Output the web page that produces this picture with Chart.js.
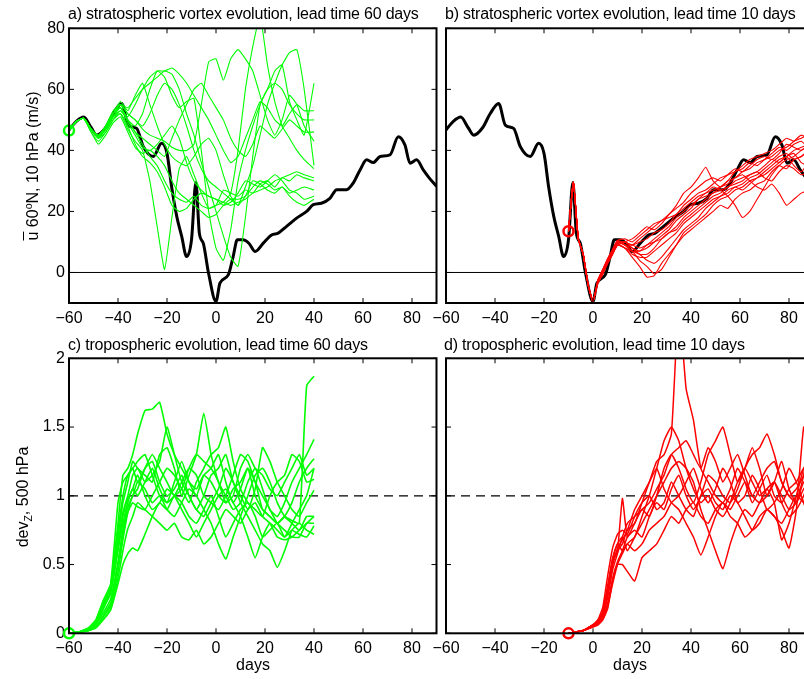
<!DOCTYPE html>
<html>
<head>
<meta charset="utf-8">
<script src="https://cdn.jsdelivr.net/npm/chart.js@4.4.1/dist/chart.umd.min.js"></script>
<style>
  html, body { margin: 0; padding: 0; background: #fff; overflow: hidden; width: 804px; height: 679px; }
  canvas { position: absolute; left: 0; top: 0; }
  .txt { position: absolute; font-family: "Liberation Sans", Arial, sans-serif; font-size: 16px; line-height: 16px; color: #000; white-space: nowrap; }
  .title { letter-spacing: -0.2px; }
  .ylab { transform: translate(-50%, -50%) rotate(-90deg); }
  .xlab { transform: translateX(-50%); }
  .ovl { text-decoration: overline; }
  sup, sub { font-size: 10.5px; line-height: 0; }
</style>
</head>
<body>
<canvas id="chart-a" width="830" height="679"></canvas>
<canvas id="chart-b" width="830" height="679"></canvas>
<canvas id="chart-c" width="830" height="679"></canvas>
<canvas id="chart-d" width="830" height="679"></canvas>

<div class="txt title" style="left:68px;top:6px">a) stratospheric vortex evolution, lead time 60 days</div>
<div class="txt title" style="left:445px;top:6px">b) stratospheric vortex evolution, lead time 10 days</div>
<div class="txt title" style="left:68px;top:337px">c) tropospheric evolution, lead time 60 days</div>
<div class="txt title" style="left:444px;top:337px">d) tropospheric evolution, lead time 10 days</div>
<div class="txt ylab" style="left:33px;top:166px"><span class="ovl">u</span> 60<sup>o</sup>N, 10 hPa (m/s)</div>
<div class="txt ylab" style="left:23px;top:497px">dev<sub>Z</sub>, 500 hPa</div>
<div class="txt xlab" style="left:253px;top:657px">days</div>
<div class="txt xlab" style="left:630px;top:657px">days</div>

<script>
// tick labels
const dayTicks = [-60, -40, -20, 0, 20, 40, 60, 80];
const uTicks = [0, 20, 40, 60, 80];
const devTicks = [0, 0.5, 1, 1.5, 2];

// reference lines
const refDays = [-60, 90];
const uZero = [0, 0];
const devOne = [1, 1];

// observed 10 hPa zonal wind at 60N
const obsDays = [-60, -57, -54, -51, -48.7, -45, -42, -38.5, -35.8, -32.4, -29.7, -25.6, -22.2, -20, -18.1,
  -16, -14, -12, -10, -8.2, -6.8, -5.2, -3.1, 0, 1.6, 5, 7, 8.7, 11, 13.5, 16, 19.3, 22.7, 25.4, 28.8,
  32.9, 37, 39.7, 43, 46.5, 49.3, 53.3, 56, 58.8, 61.5, 64.2, 67, 71, 74.4, 77.1, 79.2, 81.9, 84.6, 87, 90];
const obsU = [46.7, 49.5, 50.9, 47.5, 45, 47.5, 52, 55.4, 48.3, 47.2, 41.3, 38, 42.3, 39, 28,
  18.3, 11.8, 5.2, 10.7, 29.5, 12.9, 9.6, 0, -9.5, -3.5, -0.8, 5.2, 10.7, 10.7, 9.5, 6.9, 9.6, 12.3, 12.9, 15.1,
  17.8, 20, 22.2, 22.7, 24.3, 27.1, 27.1, 29.3, 33.6, 36.9, 36, 38, 38.5, 44.5, 41.8, 35.8, 36.9, 33.6, 31, 28.2];

// a) ensemble started 60 days ahead
const daysA = [-60, -57, -54, -51, -48, -45, -42, -39, -36, -33, -30, -27, -24, -21, -18, -15, -12, -9, -6, -3,
  0, 3, 6, 9, 12, 15, 18, 21, 24, 27, 30, 33, 36, 40];
const uA1 = [46.5, 49.5, 50.5, 47, 44, 47, 51, 52, 47, 43, 40, 30, 15, 1, 18, 34, 38, 32, 26, 21, 22, 27, 26, 25, 27, 26, 29, 30, 28, 31, 30, 32, 31, 30];
const uA2 = [46.5, 49.5, 50.5, 47, 44.5, 48, 52, 54, 50, 46, 42, 38, 35, 30, 26, 24, 23, 25, 22, 21, 22, 23, 26, 40, 60, 74, 84, 68, 56, 48, 44, 40, 37, 34];
const uA3 = [46.5, 49.5, 50.5, 47, 45, 48, 53, 55, 52, 50, 47, 45, 44, 43, 41, 40, 40, 42, 55, 69, 70, 63, 70, 73, 70, 66, 58, 50, 45, 50, 58, 55, 48, 43];
const uA4 = [46.5, 49.5, 50.5, 47, 44.5, 47, 52, 56, 53, 58, 62, 55, 48, 42, 38, 36, 35, 38, 42, 44, 40, 32, 25, 22, 28, 35, 45, 55, 62, 68, 72, 73, 60, 35];
const uA5 = [46.5, 49.5, 50.5, 47, 44, 46, 50, 53, 50, 48, 52, 60, 66, 64, 58, 54, 56, 57, 40, 20, 8, 4, 14, 30, 40, 48, 55, 60, 62, 60, 55, 52, 50, 50];
const uA6 = [46.5, 49.5, 50.5, 47, 45, 48, 52, 55, 54, 57, 60, 62, 64, 66, 65, 60, 52, 45, 36, 28, 20, 12, 5, 2, 18, 38, 55, 60, 66, 68, 56, 50, 45, 62];
const uA7 = [46.5, 49.5, 50.5, 47, 44.5, 48, 52, 54, 51, 55, 60, 64, 66, 66, 67, 65, 62, 58, 54, 50, 45, 40, 36, 38, 44, 50, 56, 54, 50, 48, 52, 55, 53, 53];
const uA8 = [46.5, 49.5, 50.5, 47, 44, 47, 51, 53, 50, 46, 44, 42, 40, 38, 44, 50, 55, 60, 62, 58, 54, 50, 44, 40, 38, 42, 48, 46, 44, 47, 50, 48, 46, 46];
const uA9 = [46.5, 49.5, 50.5, 46, 43, 46, 50, 52, 48, 42, 38, 36, 33, 28, 22, 20, 21, 24, 26, 25, 24, 23, 22, 23, 24, 26, 27, 28, 30, 31, 32, 33, 32, 31];
const uA10 = [46.5, 49.5, 50.5, 46, 42, 45, 49, 51, 46, 41, 39, 40, 38, 35, 30, 26, 24, 22, 20, 18, 19, 22, 24, 24, 25, 28, 30, 29, 27, 28, 26, 27, 28, 27];
const uA11 = [46.5, 49.5, 50.5, 47, 44, 47, 51, 54, 49, 45, 41, 40, 42, 45, 48, 44, 36, 30, 27, 25, 24, 22, 23, 26, 30, 29, 28, 30, 32, 30, 27, 26, 24, 25];
const uA12 = [46.5, 49.5, 50.5, 47, 44.5, 47, 52, 55, 52, 50, 48, 52, 58, 62, 60, 55, 48, 40, 34, 30, 28, 26, 24, 22, 25, 30, 29, 27, 26, 28, 25, 23, 22, 24];

// b) ensemble started 10 days ahead
const daysB = [-10, -8, -6, -4, -2, 0, 2, 4, 6, 8, 10, 13, 16, 19, 22, 25, 28, 31, 34, 37, 40, 43, 46, 49, 52,
  55, 58, 61, 64, 67, 70, 73, 76, 79, 82, 85, 88, 90];
const uB1 = [13.5, 29.5, 11, 6, -4, -9.5, -3, 0.5, 4, 7, 10, 10, 9, 11, 13, 15, 17, 19, 22, 26, 28, 31, 34.5, 30, 28, 30, 33, 34, 36, 35, 37, 39, 41, 40, 42, 43, 41, 42];
const uB2 = [13.5, 29.5, 11, 6, -4, -9.5, -3, 0, 3, 6, 9, 8, 5, 2, -1.5, -1, 3, 6, 9, 12, 14, 16, 18, 20, 22, 21, 24, 26, 27, 29, 30, 33, 35, 34, 37, 38, 40, 39];
const uB3 = [13.5, 29.5, 11, 6, -4, -9.5, -2.5, 1, 4.5, 7.5, 10.5, 9, 7, 4, 2, -0.5, 1, 5, 9, 13, 15, 17, 19, 22, 24, 25, 27, 28, 30, 31, 33, 35, 37, 38, 40, 41, 42, 43];
const uB4 = [13.5, 29.5, 11, 6, -4, -9.5, -3.5, -0.5, 3.5, 7, 9.5, 10, 9, 10, 11, 13, 14, 16, 19, 21, 23, 25, 26, 28, 27, 25, 22, 18, 20, 24, 28, 32, 35, 37, 38, 40, 41, 41];
const uB5 = [13.5, 29.5, 11, 6, -4, -9.5, -3, 0.5, 4, 7, 10, 9, 8, 7, 8, 10, 12, 14, 17, 19, 21, 24, 26, 27, 28, 30, 31, 32, 30, 28, 27, 29, 26, 22, 24, 26, 27, 28];
const uB6 = [13.5, 29.5, 11, 6, -4, -9.5, -2.5, 1, 4.5, 7.5, 10.5, 11, 10, 12, 14, 16, 17, 18, 19, 22, 24, 26, 27, 29, 31, 32, 33, 35, 37, 38, 39, 40, 42, 44, 43, 44, 45, 44];
const uB7 = [13.5, 29.5, 11, 6, -4, -9.5, -3, 0, 3, 6, 9, 8, 6, 5, 5, 7, 9, 11, 13, 16, 18, 20, 22, 24, 25, 27, 28, 29, 31, 32, 34, 36, 38, 39, 37, 38, 40, 41];
const uB8 = [13.5, 29.5, 11, 6, -4, -9.5, -3.5, -0.5, 3.5, 7, 9.5, 10, 8, 6, 6, 8, 11, 13, 14, 17, 19, 21, 23, 25, 26, 28, 29, 30, 32, 33, 35, 37, 36, 38, 35, 33, 36, 37];
const uB9 = [13.5, 29.5, 11, 6, -4, -9.5, -3, 0.5, 4, 7, 10, 9, 9, 8, 9, 11, 13, 15, 18, 20, 22, 24, 25, 26, 28, 29, 31, 33, 34, 36, 37, 38, 40, 41, 43, 45, 44, 45];
const uB10 = [13.5, 29.5, 11, 6, -4, -9.5, -2.5, 1, 4.5, 7.5, 10.5, 9, 7, 6, 4, 3, 5, 8, 11, 14, 16, 18, 21, 23, 25, 26, 28, 27, 29, 31, 32, 34, 36, 38, 39, 36, 35, 36];
const uB11 = [13.5, 29.5, 11, 6, -4, -9.5, -3, 0, 3, 6, 9, 10, 11, 13, 15, 14, 16, 19, 21, 23, 26, 28, 30, 31, 30, 32, 34, 33, 35, 37, 38, 37, 39, 42, 41, 40, 42, 43];
const uB12 = [13.5, 29.5, 11, 6, -4, -9.5, -3.5, -0.5, 3.5, 7, 9.5, 8, 7, 7, 9, 10, 11, 13, 15, 18, 20, 22, 24, 26, 27, 28, 30, 31, 32, 33, 31, 30, 33, 35, 34, 32, 33, 34];

// c) tropospheric deviation, 60 days ahead
const daysC = [-60, -56, -52, -49, -46, -43, -40, -38, -36, -34, -32, -29, -26, -23, -20, -17, -14, -11, -8, -5,
  -2, 1, 4, 7, 10, 13, 16, 19, 22, 25, 28, 31, 34, 37, 40];
const devC1 = [0, 0.01, 0.03, 0.08, 0.2, 0.35, 0.8, 1.15, 1.2, 1.3, 1.45, 1.62, 1.63, 1.68, 1.45, 1.3, 1.2, 1.1, 1.05, 1.15, 1.1, 1.0, 0.95, 1.05, 1.1, 1.2, 1.0, 0.9, 0.85, 0.8, 0.85, 0.95, 1.1, 1.2, 1.27];
const devC2 = [0, 0.005, 0.02, 0.05, 0.1, 0.17, 0.36, 0.5, 0.58, 0.62, 0.6, 0.72, 0.85, 0.95, 0.9, 1.0, 0.95, 0.85, 0.8, 0.9, 1.0, 0.85, 0.7, 0.8, 0.9, 0.95, 0.85, 0.7, 0.75, 0.8, 0.7, 0.75, 0.72, 0.7, 0.78];
const devC3 = [0, 0.01, 0.03, 0.07, 0.18, 0.3, 0.6, 0.8, 0.95, 1.05, 1.0, 1.1, 1.2, 1.05, 0.95, 1.1, 1.25, 1.1, 1.0, 1.15, 1.2, 1.3, 1.1, 0.95, 1.05, 1.2, 1.1, 0.9, 0.85, 0.8, 0.85, 0.82, 0.8, 1.8, 1.87];
const devC4 = [0, 0.01, 0.04, 0.09, 0.22, 0.33, 0.7, 0.95, 1.1, 1.25, 1.2, 1.15, 1.1, 1.3, 1.35, 1.2, 1.0, 1.15, 1.3, 1.6, 1.3, 1.1, 1.0, 0.9, 0.95, 1.1, 1.2, 1.05, 0.9, 0.85, 0.95, 1.1, 1.2, 1.3, 1.41];
const devC5 = [0, 0.01, 0.03, 0.07, 0.15, 0.25, 0.52, 0.75, 0.92, 1.0, 1.1, 1.05, 0.95, 1.0, 0.9, 0.85, 0.95, 1.05, 1.0, 0.9, 0.8, 0.65, 0.54, 0.7, 0.85, 1.0, 1.15, 1.2, 1.1, 0.95, 0.85, 0.8, 0.75, 0.85, 0.85];
const devC6 = [0, 0.01, 0.02, 0.05, 0.12, 0.2, 0.45, 0.68, 0.88, 1.0, 1.05, 1.2, 1.25, 1.1, 1.0, 1.05, 1.15, 1.0, 0.9, 0.85, 0.95, 1.05, 1.2, 1.1, 0.95, 0.85, 0.75, 0.65, 0.6, 0.48, 0.6, 0.75, 0.8, 0.75, 0.72];
const devC7 = [0, 0.01, 0.03, 0.08, 0.19, 0.3, 0.65, 0.88, 1.0, 1.15, 1.2, 1.1, 1.15, 1.25, 1.5, 1.3, 1.1, 1.0, 0.9, 1.0, 1.15, 1.2, 1.3, 1.1, 1.0, 0.9, 1.05, 1.35, 1.25, 1.1, 1.0, 0.9, 0.85, 0.95, 1.04];
const devC8 = [0, 0.01, 0.02, 0.05, 0.13, 0.22, 0.5, 0.72, 0.88, 0.95, 0.92, 0.9, 1.0, 1.1, 1.2, 1.15, 1.05, 0.95, 1.1, 1.2, 1.3, 1.35, 1.5, 1.25, 1.05, 0.95, 0.9, 0.85, 1.0, 1.1, 1.15, 1.3, 1.25, 1.1, 1.12];
const devC9 = [0, 0.01, 0.03, 0.07, 0.18, 0.29, 0.62, 0.85, 0.98, 1.05, 1.15, 1.0, 0.9, 0.95, 1.05, 1.0, 0.9, 0.8, 0.7, 0.8, 0.9, 1.0, 1.05, 0.95, 0.85, 0.7, 0.55, 0.7, 0.8, 0.75, 0.7, 0.8, 0.9, 1.0, 1.2];
const devC10 = [0, 0.01, 0.03, 0.08, 0.2, 0.34, 0.75, 1.0, 1.15, 1.2, 1.25, 1.3, 1.15, 1.0, 0.95, 1.0, 1.1, 1.2, 1.15, 1.0, 0.95, 0.9, 1.0, 1.15, 1.3, 1.25, 1.1, 1.0, 0.9, 0.8, 0.75, 0.7, 0.7, 0.8, 0.8];
const devC11 = [0, 0.005, 0.02, 0.04, 0.1, 0.18, 0.4, 0.6, 0.76, 0.85, 0.95, 0.9, 0.85, 0.8, 0.75, 0.8, 0.7, 0.68, 0.75, 0.65, 0.7, 0.8, 0.9, 0.85, 0.8, 0.9, 0.95, 0.85, 0.8, 0.7, 0.68, 0.7, 0.75, 0.8, 0.85];
const devC12 = [0, 0.01, 0.04, 0.1, 0.24, 0.36, 0.95, 1.1, 1.15, 1.2, 1.1, 1.2, 1.3, 1.2, 1.1, 1.0, 1.05, 1.2, 1.3, 1.25, 1.2, 1.1, 0.95, 1.0, 1.2, 1.3, 1.2, 1.15, 1.05, 1.0, 1.1, 1.2, 1.3, 1.15, 1.2];

// d) tropospheric deviation, 10 days ahead
const daysD = [-10, -7, -4, -1, 2, 4, 6, 8, 10, 12, 14, 17, 20, 23, 26, 29, 32, 35, 38, 41, 44, 47, 50, 53, 56,
  59, 62, 65, 68, 71, 74, 77, 80, 83, 86, 88, 90];
const devD1 = [0, 0.01, 0.02, 0.05, 0.08, 0.14, 0.3, 0.5, 0.6, 0.65, 0.75, 0.8, 0.95, 1.1, 1.25, 1.3, 1.45, 2.4, 1.78, 1.55, 1.2, 1.1, 1.0, 0.95, 1.05, 1.2, 1.1, 0.95, 1.05, 1.15, 1.0, 0.95, 1.05, 1.1, 1.2, 1.15, 1.25];
const devD2 = [0, 0.01, 0.02, 0.04, 0.07, 0.1, 0.18, 0.38, 0.5, 0.5, 0.45, 0.38, 0.55, 0.6, 0.65, 0.75, 0.85, 0.8, 0.9, 0.95, 0.85, 0.8, 0.9, 0.95, 0.85, 0.8, 0.7, 0.75, 0.85, 0.9, 0.85, 0.8, 0.9, 1.0, 0.95, 0.9, 1.0];
const devD3 = [0, 0.01, 0.02, 0.05, 0.09, 0.16, 0.35, 0.55, 0.65, 0.7, 0.6, 0.7, 0.8, 0.9, 1.0, 1.1, 1.2, 1.25, 1.2, 1.1, 0.9, 0.75, 0.6, 0.47, 0.65, 0.8, 0.9, 0.85, 0.95, 1.05, 1.1, 1.0, 0.9, 0.95, 1.1, 1.05, 1.0];
const devD4 = [0, 0.01, 0.02, 0.05, 0.08, 0.15, 0.32, 0.52, 0.6, 0.98, 0.7, 0.8, 0.9, 0.85, 1.0, 1.2, 1.3, 1.2, 1.05, 0.95, 1.1, 1.3, 1.4, 1.5, 1.3, 1.1, 1.2, 1.35, 1.2, 1.0, 1.1, 1.25, 1.05, 0.95, 1.15, 1.3, 1.35];
const devD5 = [0, 0.01, 0.02, 0.04, 0.07, 0.11, 0.22, 0.4, 0.52, 0.6, 0.7, 0.75, 0.7, 0.85, 0.95, 0.9, 1.05, 1.15, 1.0, 0.9, 1.0, 1.15, 1.1, 1.0, 0.95, 1.05, 1.2, 1.3, 1.35, 1.45, 1.3, 1.1, 1.0, 0.95, 1.05, 1.1, 1.2];
const devD6 = [0, 0.01, 0.02, 0.05, 0.1, 0.19, 0.42, 0.62, 0.72, 0.75, 0.72, 0.85, 0.95, 1.0, 0.9, 0.95, 1.1, 1.0, 0.9, 0.85, 1.0, 1.05, 0.95, 0.9, 1.0, 0.95, 0.85, 0.75, 0.8, 0.9, 0.85, 0.75, 0.62, 0.9, 1.5, 1.3, 1.4];
const devD7 = [0, 0.01, 0.02, 0.05, 0.08, 0.14, 0.3, 0.5, 0.62, 0.68, 0.75, 0.9, 1.0, 1.1, 1.2, 1.05, 0.95, 0.9, 0.8, 0.7, 0.57, 0.7, 0.85, 0.95, 0.9, 1.0, 1.1, 1.0, 0.95, 1.0, 1.1, 0.95, 0.85, 0.9, 1.0, 1.1, 1.05];
const devD8 = [0, 0.01, 0.02, 0.04, 0.06, 0.1, 0.2, 0.36, 0.5, 0.58, 0.65, 0.7, 0.85, 1.0, 1.2, 1.4, 1.5, 1.4, 1.2, 1.05, 0.95, 1.0, 0.9, 0.85, 0.95, 1.1, 1.2, 1.1, 1.0, 1.05, 0.95, 0.68, 0.8, 1.0, 1.2, 1.25, 1.1];
const devD9 = [0, 0.01, 0.02, 0.05, 0.09, 0.15, 0.33, 0.53, 0.65, 0.6, 0.65, 0.6, 0.65, 0.75, 0.8, 0.85, 0.95, 1.0, 1.1, 1.2, 1.05, 0.95, 1.05, 1.2, 1.1, 0.95, 1.0, 1.15, 1.05, 0.9, 0.95, 1.05, 1.2, 1.1, 0.95, 0.85, 0.95];
const devD10 = [0, 0.01, 0.02, 0.05, 0.08, 0.13, 0.26, 0.46, 0.58, 0.7, 0.8, 0.85, 0.9, 0.95, 1.05, 1.15, 1.3, 1.35, 1.4, 1.3, 1.2, 1.35, 1.25, 1.1, 1.2, 1.3, 1.15, 1.0, 1.1, 1.2, 1.25, 1.1, 1.0, 1.05, 1.15, 1.3, 1.45];

const CANVAS_W = 830;
const CANVAS_H = 679;
const GREEN = '#00ff00';
const RED = '#ff0000';

Chart.defaults.font.family = '"Liberation Sans", Arial, sans-serif';
Chart.defaults.font.size = 16;
Chart.defaults.color = '#000';

const toPoints = (days, vals) => days.map((d, i) => ({ x: d, y: vals[i] }));

function line(days, vals, color, width, order, tension) {
  return {
    data: toPoints(days, vals),
    borderColor: color,
    borderWidth: width,
    pointRadius: 0,
    fill: false,
    tension: tension,
    cubicInterpolationMode: tension === 'monotone' ? 'monotone' : 'default',
    order: order
  };
}

function marker(day, val, color) {
  return {
    data: [{ x: day, y: val }],
    showLine: false,
    pointRadius: 5,
    pointBorderWidth: 2.5,
    pointBorderColor: color,
    pointBackgroundColor: 'rgba(0,0,0,0)',
    clip: false,
    order: 0
  };
}

// box and inward tick marks on all four sides, matlab style
const framePlugin = {
  id: 'frame',
  afterDatasetsDraw(chart) {
    const { ctx, chartArea: a, scales: { x, y } } = chart;
    const len = 5;
    ctx.save();
    ctx.strokeStyle = '#000';
    ctx.lineWidth = 1;
    ctx.beginPath();
    x.ticks.forEach(t => {
      const px = x.getPixelForValue(t.value);
      ctx.moveTo(px, a.bottom); ctx.lineTo(px, a.bottom - len);
      ctx.moveTo(px, a.top); ctx.lineTo(px, a.top + len);
    });
    y.ticks.forEach(t => {
      const py = y.getPixelForValue(t.value);
      ctx.moveTo(a.left, py); ctx.lineTo(a.left + len, py);
      ctx.moveTo(a.right, py); ctx.lineTo(a.right - len, py);
    });
    ctx.stroke();
    ctx.lineWidth = 2;
    ctx.strokeRect(a.left, a.top, a.right - a.left, a.bottom - a.top);
    ctx.restore();
  }
};

function buildPanel(id, area, yTicks, yMin, yMax, showYLabels, datasets) {
  const yW = 60;
  const xH = 40;
  return new Chart(document.getElementById(id), {
    type: 'line',
    data: { datasets },
    options: {
      responsive: false,
      animation: false,
      events: [],
      layout: {
        padding: {
          left: area.left - yW,
          top: area.top,
          right: CANVAS_W - area.right,
          bottom: CANVAS_H - area.bottom - xH
        }
      },
      plugins: { legend: { display: false }, tooltip: { enabled: false } },
      scales: {
        x: {
          type: 'linear',
          min: -60,
          max: 90,
          afterBuildTicks: s => { s.ticks = dayTicks.map(v => ({ value: v })); },
          afterFit: s => { s.height = xH; },
          grid: { display: false, drawTicks: false },
          border: { display: false },
          ticks: {
            padding: 6,
            maxRotation: 0,
            autoSkip: false,
            callback: v => String(v).replace('-', '\u2212')
          }
        },
        y: {
          type: 'linear',
          min: yMin,
          max: yMax,
          afterBuildTicks: s => { s.ticks = yTicks.map(v => ({ value: v })); },
          afterFit: s => { s.width = yW; },
          grid: { display: false, drawTicks: false },
          border: { display: false },
          ticks: {
            padding: 4,
            autoSkip: false,
            callback: v => showYLabels ? String(v) : ''
          }
        }
      }
    },
    plugins: [framePlugin]
  });
}

const areaA = { left: 69, right: 436.5, top: 28.3, bottom: 303 };
const areaB = { left: 446, right: 813.5, top: 28.3, bottom: 303 };
const areaC = { left: 69, right: 436.5, top: 358.3, bottom: 633.3 };
const areaD = { left: 446, right: 813.5, top: 358.3, bottom: 633.3 };

const ensA = [uA1, uA2, uA3, uA4, uA5, uA6, uA7, uA8, uA9, uA10, uA11, uA12];
const ensB = [uB1, uB2, uB3, uB4, uB5, uB6, uB7, uB8, uB9, uB10, uB11, uB12];
const ensC = [devC1, devC2, devC3, devC4, devC5, devC6, devC7, devC8, devC9, devC10, devC11, devC12];
const ensD = [devD1, devD2, devD3, devD4, devD5, devD6, devD7, devD8, devD9, devD10];

buildPanel('chart-a', areaA, uTicks, -10, 80, true, [
  marker(daysA[0], uA1[0], GREEN),
  ...ensA.map(v => line(daysA, v, GREEN, 1.1, 1, 0.15)),
  line(obsDays, obsU, '#000', 3, 2, 'monotone'),
  line(refDays, uZero, '#000', 1, 3, 0)
]);

buildPanel('chart-b', areaB, uTicks, -10, 80, false, [
  marker(daysB[0], uB1[0], RED),
  ...ensB.map(v => line(daysB, v, RED, 1.1, 1, 0.15)),
  line(obsDays, obsU, '#000', 3, 2, 'monotone'),
  line(refDays, uZero, '#000', 1, 3, 0)
]);

buildPanel('chart-c', areaC, devTicks, 0, 2, true, [
  marker(daysC[0], devC1[0], GREEN),
  ...ensC.map(v => line(daysC, v, GREEN, 1.6, 1, 0.15)),
  Object.assign(line(refDays, devOne, '#000', 1.3, 3, 0), { borderDash: [9, 6] })
]);

buildPanel('chart-d', areaD, devTicks, 0, 2, false, [
  marker(daysD[0], devD1[0], RED),
  ...ensD.map(v => line(daysD, v, RED, 1.5, 1, 0.15)),
  Object.assign(line(refDays, devOne, '#000', 1.3, 3, 0), { borderDash: [9, 6] })
]);
</script>
</body>
</html>
